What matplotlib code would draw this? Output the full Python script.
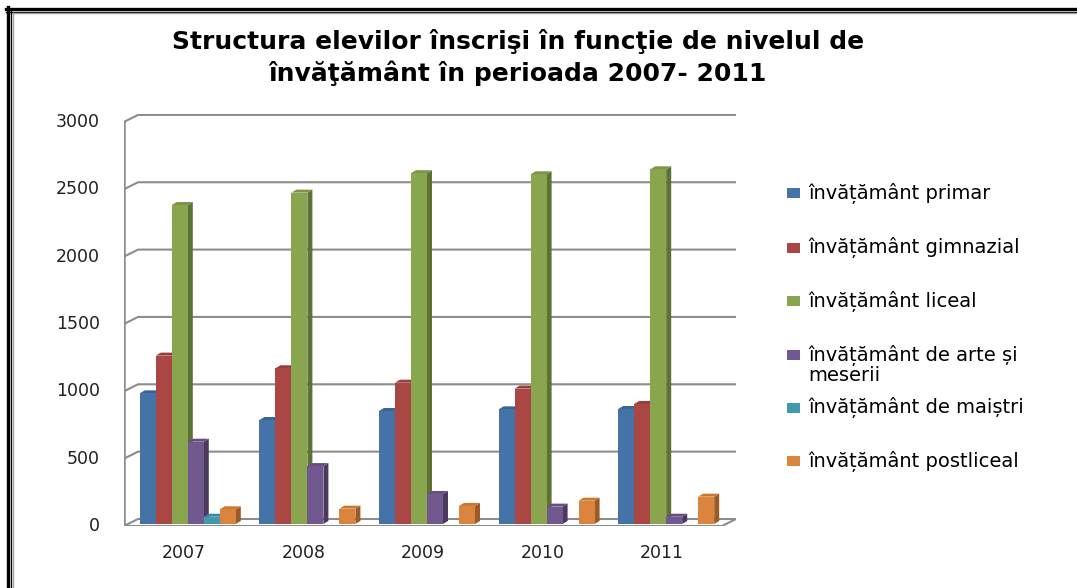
import matplotlib
matplotlib.use("Agg")
import matplotlib.pyplot as plt
from matplotlib.patches import Polygon, Rectangle
from matplotlib.lines import Line2D

# ---------------- data ----------------
years = ["2007", "2008", "2009", "2010", "2011"]
series_names = [
    "învățământ primar",
    "învățământ gimnazial",
    "învățământ liceal",
    "învățământ de arte și\nmeserii",
    "învățământ de maiștri",
    "învățământ postliceal",
]
primar = [970, 772, 839, 851, 854]
gimnazial = [1250, 1156, 1049, 1005, 891]
liceal = [2368, 2460, 2604, 2596, 2633]
arte_meserii = [611, 430, 223, 129, 54]
maistri = [54, 0, 0, 0, 0]
postliceal = [109, 114, 134, 173, 203]
series_values = [primar, gimnazial, liceal, arte_meserii, maistri, postliceal]
yticks = [0, 500, 1000, 1500, 2000, 2500, 3000]
title = "Structura elevilor înscrişi în funcţie de nivelul de\nînvăţământ în perioada 2007- 2011"

front_colors = ["#4572A7", "#AA4643", "#89A54E", "#71588F", "#4198AF", "#DB843D"]
side_colors = ["#2F4F78", "#7A302E", "#5E7235", "#4B3A60", "#2B6B7C", "#9C5A26"]
top_colors = ["#3A6397", "#983D3A", "#7A9545", "#654F80", "#3A889E", "#C8782F"]

W, H = 1077, 588
fig = plt.figure(figsize=(W / 100, H / 100), dpi=100)
fig.patch.set_facecolor("white")

# axes geometry in pixels
ax_left, ax_right, ax_bottom, ax_top = 124, 736, 526, 114
ax = fig.add_axes([ax_left / W, (H - ax_bottom) / H,
                   (ax_right - ax_left) / W, (ax_bottom - ax_top) / H])
px_per_cat = 119.6
px_per_unit = 0.1347
ux = 1.0 / px_per_cat      # data-x per pixel
uy = 1.0 / px_per_unit     # data-y per pixel
xmin = -0.5
xmax = xmin + (ax_right - ax_left) * ux
ymax = (ax_bottom - ax_top) * uy
ax.set_xlim(xmin, xmax)
ax.set_ylim(0, ymax)
ax.axis("off")

grid_col = "#8C8C8C"
wall_dx, wall_dy = 14 * ux, 7 * uy
x_front_right = xmin + 598 * ux

# back-wall gridlines
for v in yticks[1:]:
    ax.plot([xmin, xmin + wall_dx, xmax], [v, v + wall_dy, v + wall_dy],
            color=grid_col, lw=1.5, zorder=1, solid_capstyle="butt")
# floor
floor = Polygon([(xmin, 0), (x_front_right, 0), (x_front_right + wall_dx, wall_dy),
                 (xmin + wall_dx, wall_dy)], closed=True, facecolor="white",
                edgecolor=grid_col, lw=1.5, zorder=1)
ax.add_patch(floor)
# left axis line + ticks
ax.plot([xmin, xmin], [0, 3000], color=grid_col, lw=1.8, zorder=2)
for v in yticks:
    ax.plot([xmin - 6 * ux, xmin], [v, v], color=grid_col, lw=1.5, zorder=2)
    ax.text(xmin - 24 * ux, v, f"{v}", ha="right", va="center",
            fontsize=12.5, color="#202020", family="DejaVu Sans")

# category labels
for c, yr in enumerate(years):
    ax.text(c, -27 * uy, yr, ha="center", va="center", fontsize=12.5,
            color="#202020", family="DejaVu Sans")

# bars
bw = 16 * ux
shift_x = 4 * ux
base = 2 * uy
bdx, bdy = 5 * ux, 3 * uy
z = 3
for c in range(len(years)):
    for i, vals in enumerate(series_values):
        v = vals[c]
        if v <= 0:
            continue
        xl = c + shift_x + (i - 3) * bw
        xr = xl + bw
        top = base + v
        side = Polygon([(xr, base), (xr + bdx, base + bdy), (xr + bdx, top + bdy), (xr, top)],
                       closed=True, facecolor=side_colors[i], edgecolor="none", zorder=z)
        topf = Polygon([(xl, top), (xl + bdx, top + bdy), (xr + bdx, top + bdy), (xr, top)],
                       closed=True, facecolor=top_colors[i], edgecolor="none", zorder=z)
        ax.add_patch(side)
        ax.add_patch(topf)
        ax.bar(xl, v, width=bw, bottom=base, align="edge", color=front_colors[i],
               edgecolor="none", zorder=z + 0.5)
        z += 1

# title
fig.text(518 / W, 1 - 57.5 / H, title, ha="center", va="center", ma="center",
         fontsize=18, fontweight="bold", family="DejaVu Sans", color="black",
         linespacing=1.3)

# legend (manual)
leg_y = [193, 248, 301, 355, 408, 461]
for i, name in enumerate(series_names):
    y = leg_y[i]
    fig.add_artist(Rectangle((787 / W, 1 - (y + 5) / H), 13 / W, 10 / H,
                             facecolor=front_colors[i], edgecolor="none",
                             transform=fig.transFigure))
    if "\n" in name:
        fig.text(808 / W, 1 - (y - 10) / H, name, ha="left", va="top",
                 fontsize=14, family="DejaVu Sans", color="black", linespacing=1.0)
    else:
        fig.text(808 / W, 1 - y / H, name, ha="left", va="center",
                 fontsize=14, family="DejaVu Sans", color="black")

# frame (double border on top and left)
def hline(y, lw, col):
    fig.add_artist(Line2D([6 / W, 1], [1 - y / H, 1 - y / H], lw=lw, color=col,
                          transform=fig.transFigure))

def vline(x, y0, lw, col):
    fig.add_artist(Line2D([x / W, x / W], [1 - y0 / H, 0], lw=lw, color=col,
                          transform=fig.transFigure))

hline(8.5, 2.4, "black")
hline(11.5, 0.9, "black")
hline(13.3, 1.0, "#A0A0A0")
vline(7.5, 7, 2.4, "black")
vline(10.5, 10.5, 0.9, "black")
vline(12.5, 12.5, 1.0, "#A0A0A0")

fig.savefig("out.png", dpi=100, facecolor="white")
